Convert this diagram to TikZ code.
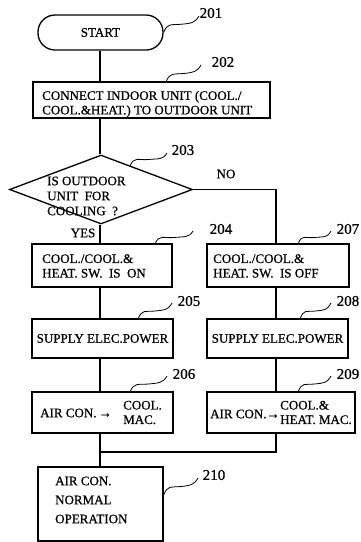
\documentclass[tikz,border=0pt]{standalone}
\usepackage{fontspec}
\setmainfont{Liberation Serif}[FakeBold=0.7]
\usetikzlibrary{shapes.geometric,calc}
\newcommand\squig[2]{\draw[sq] (#1) .. controls +(4,-10) and +(-10,1) .. ($(#1)!0.5!(#2)$) .. controls +(10,-1) and +(-4,7) .. (#2);}
\begin{document}
\begin{tikzpicture}[x=1pt,y=-1pt,
  box/.style={draw,line width=1.3pt,inner sep=0pt},
  txt/.style={font=\fontsize{13}{14.5}\selectfont,align=left,inner sep=0pt},
  ctxt/.style={font=\fontsize{13}{14.5}\selectfont,inner sep=0pt},
  lbl/.style={font=\fontsize{15}{17}\selectfont,inner sep=0pt},
  conn/.style={line width=1.3pt},
  sq/.style={line width=0.8pt}]
\useasboundingbox (0,0) rectangle (361,542);
\coordinate (colL) at (100,0);
\coordinate (colR) at (276,0);
% nodes
\node[box,minimum width=125pt,minimum height=35pt,rounded corners=17pt,ctxt] (start) at (100.5,32.5) {START};
\node[box,minimum width=237pt,minimum height=36pt] (b202) at (151.5,100) {};
\node[txt,anchor=west] (t202) at (42,104) {CONNECT INDOOR UNIT (COOL./\\COOL.\&HEAT.) TO OUTDOOR UNIT};
\node[draw,line width=1.3pt,diamond,minimum width=183pt,minimum height=69pt,inner sep=0pt] (d203) at (101,189.5) {};
\node[txt,anchor=west,font=\fontsize{13}{15}\selectfont] (t203) at (47,196) {IS OUTDOOR\\UNIT\ \ FOR\\COOLING\ \ ?};
\node[ctxt] (no) at (226,174) {NO};
\node[ctxt] (yes) at (83,233) {YES};
\node[box,minimum width=140pt,minimum height=43pt] (b204) at (102,265.5) {};
\node[txt,anchor=west] (t204) at (42,266) {COOL./COOL.\&\\HEAT. SW.\ \ IS\ \ ON};
\node[box,minimum width=142pt,minimum height=43pt] (b207) at (278,265.5) {};
\node[txt,anchor=west] (t207) at (213,266) {COOL./COOL.\&\\HEAT. SW.\ \ IS OFF};
\node[box,minimum width=141pt,minimum height=39pt,ctxt] (b205) at (102.5,338.5) {SUPPLY ELEC.POWER};
\node[box,minimum width=141pt,minimum height=39pt,ctxt] (b208) at (277.5,338.5) {SUPPLY ELEC.POWER};
\node[box,minimum width=141pt,minimum height=41pt] (b206) at (102.5,412.5) {};
\node[ctxt,anchor=west] (t206a) at (40,413) {AIR CON.\,→};
\node[txt,anchor=west] (t206b) at (123,412.5) {COOL.\\MAC.};
\node[box,minimum width=148pt,minimum height=41pt] (b209) at (281,412.5) {};
\node[ctxt,anchor=west] (t209a) at (210,414) {AIR CON.→};
\node[txt,anchor=west] (t209b) at (280,412.5) {COOL.\&\\HEAT. MAC.};
\node[box,minimum width=125pt,minimum height=74pt] (b210) at (100.5,504) {};
\node[txt,anchor=west,font=\fontsize{13}{19}\selectfont] (t210) at (55,500) {AIR CON.\\NORMAL\\OPERATION};
% reference labels
\node[lbl] (l201) at (211,13) {201};
\node[lbl] (l202) at (223,62) {202};
\node[lbl] (l203) at (183,150) {203};
\node[lbl] (l204) at (221,229) {204};
\node[lbl] (l207) at (348,229) {207};
\node[lbl] (l205) at (189,301) {205};
\node[lbl] (l208) at (348,301) {208};
\node[lbl] (l206) at (184,374) {206};
\node[lbl] (l209) at (348,374) {209};
\node[lbl] (l210) at (214,475) {210};
% connectors
\draw[conn] (colL |- start.south) -- (colL |- b202.north);
\draw[conn] (colL |- b202.south) -- (colL |- d203.north);
\draw[conn] (colL |- d203.south) -- (colL |- b204.north);
\draw[conn] (d203.east) -| (colR |- b207.north);
\draw[conn] (colL |- b204.south) -- (colL |- b205.north);
\draw[conn] (colR |- b207.south) -- (colR |- b208.north);
\draw[conn] (colL |- b205.south) -- (colL |- b206.north);
\draw[conn] (colR |- b208.south) -- (colR |- b209.north);
\coordinate (mj) at (100,452);
\draw[conn] (colL |- b206.south) -- (colL |- b210.north);
\draw[conn] (colR |- b209.south) |- (mj);
% leader squiggles
\squig{start.east}{199,16}
\squig{166,82}{201,65}
\squig{130,166}{167,153}
\squig{155,244}{193,231}
\squig{298,244}{331,231}
\squig{138,319}{172,303}
\squig{300,319}{331,303}
\squig{130,392}{167,376}
\squig{298,392}{331,376}
\squig{b210.east |- 0,495}{198,478}
\end{tikzpicture}
\end{document}
